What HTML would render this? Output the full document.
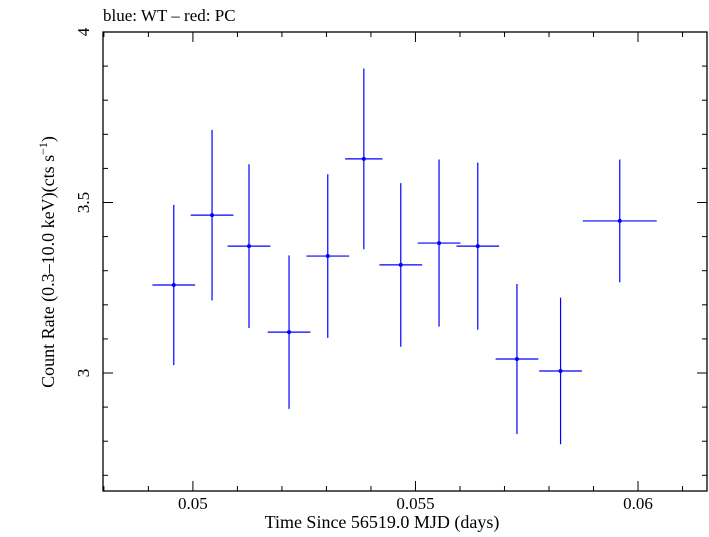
<!DOCTYPE html>
<html><head><meta charset="utf-8"><style>
body{margin:0;background:#fff}
svg text{font-family:"Liberation Serif",serif;fill:#000}
</style></head><body>
<svg width="709" height="532">
<text x="103" y="21" font-size="17">blue: WT – red: PC</text>
<g id="axes"></g>
<g id="marks"></g>
<text x="382" y="528" font-size="18" text-anchor="middle">Time Since 56519.0 MJD (days)</text>
<text transform="translate(54,262) rotate(-90)" font-size="18" text-anchor="middle">Count Rate (0.3–10.0 keV)(cts s<tspan dy="-7" font-size="12">−1</tspan><tspan dy="7">)</tspan></text>
</svg>
<script>
const times=[0.04957,0.05043,0.05126,0.05216,0.05303,0.05384,0.05467,0.05553,0.0564,0.05728,0.05826,0.05959];
const timeErr=[0.00048,0.00048,0.00048,0.00048,0.00048,0.00042,0.00048,0.00048,0.00048,0.00048,0.00048,0.00083];
const rates=[3.258,3.463,3.372,3.12,3.343,3.628,3.317,3.381,3.372,3.041,3.006,3.446];
const rateErr=[0.235,0.25,0.24,0.225,0.24,0.265,0.24,0.245,0.245,0.22,0.215,0.18];
const xTicks=[0.05,0.055,0.06];
const xTickLabels=["0.05","0.055","0.06"];
const yTicks=[3,3.5,4];
const yTickLabels=["3","3.5","4"];
const L=103,R=707,T=32,B=491;
const xMin=0.04798,xMax=0.06155,yMin=2.654,yMax=4;
const X=v=>L+(v-xMin)/(xMax-xMin)*(R-L);
const Y=v=>T+(yMax-v)/(yMax-yMin)*(B-T);
const NS="http://www.w3.org/2000/svg";
function mk(tag,attrs,parent){const e=document.createElementNS(NS,tag);for(const k in attrs)e.setAttribute(k,attrs[k]);parent.appendChild(e);return e;}
const ax=document.getElementById('axes');
const fr=mk('rect',{x:L,y:T,width:R-L,height:B-T,fill:'none',stroke:'#000','stroke-width':1.3},ax);


for(let i=48;i<=61;i++){const v=i/1000;const major=(i%5===0);const len=major?10:5;const x=X(v);
 const t1=mk('line',{x1:x,x2:x,y1:B,y2:B-len,stroke:'#000'},ax);
 
 
 const t2=mk('line',{x1:x,x2:x,y1:T,y2:T+len,stroke:'#000'},ax);
 
 }
xTicks.forEach((v,i)=>{const t=mk('text',{x:X(v),y:B+18,'font-size':17,'text-anchor':'middle'},ax);t.textContent=xTickLabels[i];
 
 });
for(let i=27;i<=40;i++){const v=i/10;if(v<yMin)continue;const major=(i%5===0);const len=major?10:5;const y=Y(v);
 const t1=mk('line',{x1:L,x2:L+len,y1:y,y2:y,stroke:'#000'},ax);
 
 
 const t2=mk('line',{x1:R,x2:R-len,y1:y,y2:y,stroke:'#000'},ax);
 
 }
yTicks.forEach((v,i)=>{const t=mk('text',{transform:`translate(89,${Y(v)}) rotate(-90)`,'font-size':17,'text-anchor':'middle'},ax);t.textContent=yTickLabels[i];
 
 });
const mg=document.getElementById('marks');
times.forEach((t,i)=>{const g=mk('g',{},mg);
 
 
 const x=X(t),y=Y(rates[i]);
 mk('line',{x1:X(t-timeErr[i]),x2:X(t+timeErr[i]),y1:y,y2:y,stroke:'#0000ff','stroke-width':1.2},g);
 mk('line',{x1:x,x2:x,y1:Y(rates[i]+rateErr[i]),y2:Y(rates[i]-rateErr[i]),stroke:'#0000ff','stroke-width':1.2},g);
 mk('circle',{cx:x,cy:y,r:2,fill:'#0000ff'},g);});
</script>
</body></html>
